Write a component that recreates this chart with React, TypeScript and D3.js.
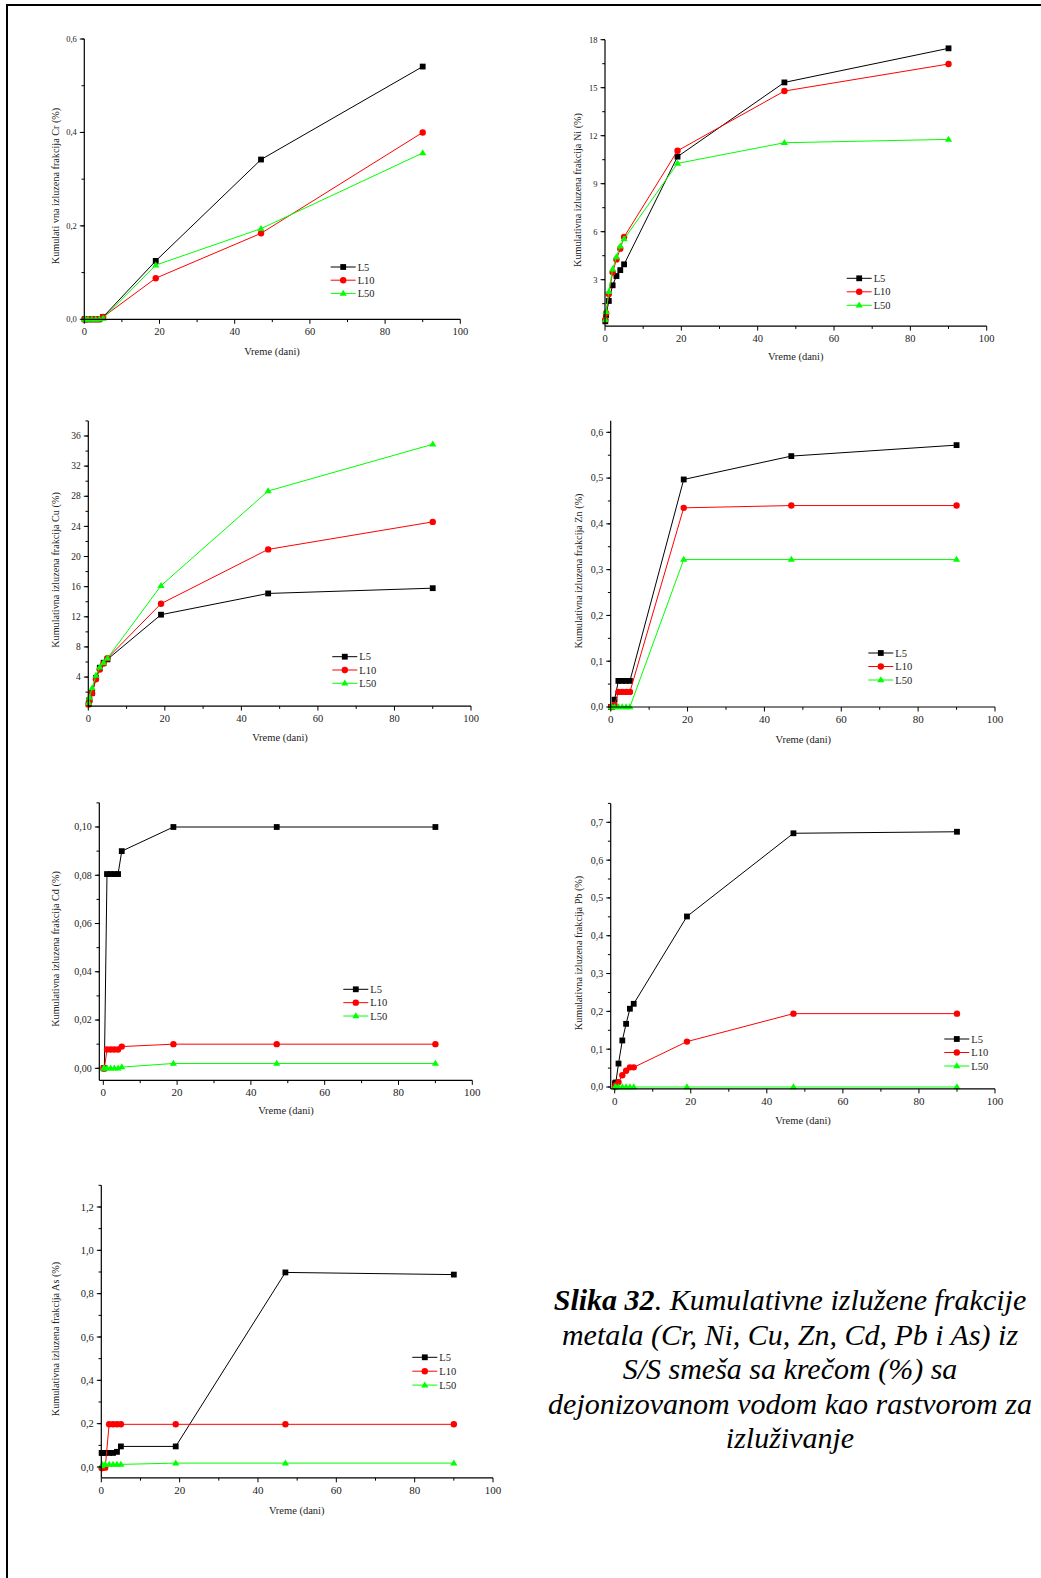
import React from "react";
import * as d3 from "d3";

// ---------- DATA ----------
const DAYS = [0.083, 0.29, 1, 2, 3, 4, 5, 19, 47, 90];
const SERIES_NAMES = ["L5", "L10", "L50"];
const X_TICKS = [0, 20, 40, 60, 80, 100];

const CR_L5 = [0, 0, 0, 0, 0, 0, 0.005, 0.125, 0.342, 0.541];
const CR_L10 = [0, 0, 0, 0, 0, 0, 0.005, 0.088, 0.184, 0.4];
const CR_L50 = [0, 0, 0, 0, 0, 0, 0.002, 0.116, 0.194, 0.356];
const CR_TICKS = [0, 0.2, 0.4, 0.6];

const NI_L5 = [0.4, 0.8, 1.67, 2.65, 3.23, 3.6, 3.96, 10.69, 15.33, 17.46];
const NI_L10 = [0.5, 0.9, 2.1, 3.46, 4.27, 4.94, 5.67, 11.06, 14.79, 16.48];
const NI_L50 = [0.5, 1.0, 2.25, 3.65, 4.42, 5.1, 5.54, 10.27, 11.56, 11.77];
const NI_TICKS = [3, 6, 9, 12, 15, 18];

const CU_L5 = [0.4, 0.95, 1.9, 3.9, 5.24, 5.9, 6.35, 12.28, 15.1, 15.8];
const CU_L10 = [0.35, 0.85, 1.85, 3.7, 5.0, 5.8, 6.5, 13.74, 20.95, 24.6];
const CU_L50 = [0.6, 1.3, 2.55, 4.2, 5.3, 5.9, 6.5, 16.13, 28.7, 34.9];
const CU_TICKS = [4, 8, 12, 16, 20, 24, 28, 32, 36];

const ZN_L5 = [0, 0, 0.016, 0.057, 0.057, 0.057, 0.057, 0.497, 0.548, 0.572];
const ZN_L10 = [0, 0, 0.004, 0.033, 0.033, 0.033, 0.033, 0.435, 0.44, 0.44];
const ZN_L50 = [0, 0, 0, 0, 0, 0, 0, 0.322, 0.322, 0.322];
const ZN_TICKS = [0, 0.1, 0.2, 0.3, 0.4, 0.5, 0.6];

const CD_L5 = [0, 0, 0.0805, 0.0805, 0.0805, 0.0805, 0.09, 0.1, 0.1, 0.1];
const CD_L10 = [0, 0, 0.0078, 0.0078, 0.0078, 0.0078, 0.009, 0.01, 0.01, 0.01];
const CD_L50 = [0, 0, 0, 0, 0, 0, 0.0005, 0.002, 0.002, 0.002];
const CD_TICKS = [0, 0.02, 0.04, 0.06, 0.08, 0.1];

const PB_L5 = [0.01, 0.012, 0.062, 0.123, 0.167, 0.207, 0.22, 0.451, 0.671, 0.675];
const PB_L10 = [0, 0.005, 0.013, 0.031, 0.043, 0.052, 0.052, 0.12, 0.194, 0.194];
const PB_L50 = [0, 0, 0, 0, 0, 0, 0, 0, 0, 0];
const PB_TICKS = [0, 0.1, 0.2, 0.3, 0.4, 0.5, 0.6, 0.7];

const AS_L5 = [0.065, 0.065, 0.065, 0.065, 0.065, 0.07, 0.095, 0.095, 0.898, 0.888];
const AS_L10 = [-0.005, -0.005, -0.003, 0.197, 0.197, 0.197, 0.197, 0.197, 0.197, 0.197];
const AS_L50 = [0.005, 0.01, 0.012, 0.012, 0.012, 0.012, 0.012, 0.018, 0.018, 0.018];
const AS_TICKS = [0, 0.2, 0.4, 0.6, 0.8, 1.0, 1.2];

const CAPTION_LINES = [
  "Kumulativne izlužene frakcije",
  "metala (Cr, Ni, Cu, Zn, Cd, Pb i As) iz",
  "S/S smeša sa krečom (%) sa",
  "dejonizovanom vodom kao rastvorom za",
  "izluživanje",
];

// ---------- LAYOUT / STYLE ----------
const COLORS = ["#000000", "#ff0000", "#00ff00"];
const FONT = "'Liberation Serif', 'Times New Roman', serif";

type Cfg = {
  series: number[][];
  ticks: number[];
  dec: number;
  ylabel: string;
  xr: [number, number];
  yd: [number, number];
  yr: [number, number];
  yExt: [number, number];
  xMin: number;
  legend: [number, number, number];
  ylab: [number, number];
  xlab: [number, number];
  yFs: number;
  xFs: number;
};

const PANELS: Cfg[] = [
  {
    series: [CR_L5, CR_L10, CR_L50], ticks: CR_TICKS, dec: 1,
    ylabel: "Kumulati vna izluzena frakcija Cr (%)",
    xr: [84.3, 460.3], yd: [0, 0.6], yr: [319.3, 39], yExt: [0, 0.6], xMin: 0,
    legend: [330.7, 267, 13.2], ylab: [55, 186], xlab: [272, 351], yFs: 8.5, xFs: 10.5,
  },
  {
    series: [NI_L5, NI_L10, NI_L50], ticks: NI_TICKS, dec: 0,
    ylabel: "Kumulativna izluzena frakcija Ni (%)",
    xr: [605, 986.7], yd: [0, 18], yr: [327.7, 39.7], yExt: [0.1, 18], xMin: 0,
    legend: [846.7, 278.3, 13.5], ylab: [577.7, 190], xlab: [795.7, 356], yFs: 8.5, xFs: 10.5,
  },
  {
    series: [CU_L5, CU_L10, CU_L50], ticks: CU_TICKS, dec: 0,
    ylabel: "Kumulativna izluzena frakcija Cu (%)",
    xr: [88.3, 471], yd: [0, 36], yr: [707.2, 436], yExt: [0.15, 38], xMin: 0,
    legend: [332.3, 656.7, 13.3], ylab: [55.7, 570], xlab: [280, 737.7], yFs: 9.5, xFs: 10.5,
  },
  {
    series: [ZN_L5, ZN_L10, ZN_L50], ticks: ZN_TICKS, dec: 1,
    ylabel: "Kumulativna izluzena frakcija Zn (%)",
    xr: [610.7, 995], yd: [0, 0.6], yr: [707, 432.3], yExt: [0, 0.625], xMin: 0,
    legend: [868.3, 653, 13.5], ylab: [578.3, 571], xlab: [803.3, 739.3], yFs: 10, xFs: 11,
  },
  {
    series: [CD_L5, CD_L10, CD_L50], ticks: CD_TICKS, dec: 2,
    ylabel: "Kumulativna izluzena frakcija Cd (%)",
    xr: [103.3, 472.3], yd: [0, 0.1], yr: [1068.3, 827], yExt: [-0.005, 0.11], xMin: -1.08,
    legend: [343.3, 989.3, 13.35], ylab: [55, 949], xlab: [286, 1110.7], yFs: 10, xFs: 11,
  },
  {
    series: [PB_L5, PB_L10, PB_L50], ticks: PB_TICKS, dec: 1,
    ylabel: "Kumulativna izluzena frakcija Pb (%)",
    xr: [614.7, 995], yd: [0, 0.7], yr: [1087, 822.3], yExt: [-0.005, 0.75], xMin: -1.05,
    legend: [944.3, 1039, 13.5], ylab: [578, 953], xlab: [803, 1120], yFs: 10, xFs: 11,
  },
  {
    series: [AS_L5, AS_L10, AS_L50], ticks: AS_TICKS, dec: 1,
    ylabel: "Kumulativna izluzena frakcija As (%)",
    xr: [101.3, 493], yd: [0, 1.2], yr: [1467, 1207], yExt: [-0.05, 1.3], xMin: 0,
    legend: [412.3, 1357.3, 13.9], ylab: [55.7, 1339], xlab: [296.7, 1510], yFs: 10.5, xFs: 11,
  },
];

function Marker({ kind, cx, cy, color }: { kind: number; cx: number; cy: number; color: string }) {
  if (kind === 0) {
    const s = 5.8;
    return <rect x={cx - s / 2} y={cy - s / 2} width={s} height={s} fill={color} />;
  }
  if (kind === 1) return <circle cx={cx} cy={cy} r={3.2} fill={color} />;
  const h = 6;
  const w = 7.2;
  return (
    <path
      d={`M${cx},${cy - h * 0.62}L${cx + w / 2},${cy + h * 0.38}L${cx - w / 2},${cy + h * 0.38}Z`}
      fill={color}
    />
  );
}

function fmt(v: number, dec: number) {
  return d3.format(`.${dec}f`)(v).replace(".", ",");
}

function Panel({ cfg }: { cfg: Cfg }) {
  const x = d3.scaleLinear().domain([0, 100]).range(cfg.xr);
  const y = d3.scaleLinear().domain(cfg.yd).range(cfg.yr);
  const x0 = x(cfg.xMin);
  const yBase = y(cfg.yExt[0]);
  const yTop = y(cfg.yExt[1]);
  const step = cfg.ticks[1] - cfg.ticks[0];
  const minors: number[] = [];
  for (let v = cfg.ticks[0] - step / 2; v <= cfg.yExt[1] + 1e-9; v += step / 2) {
    if (v >= cfg.yExt[0] - 1e-9) minors.push(v);
  }
  const line = d3
    .line<number>()
    .x((_, i) => x(DAYS[i]))
    .y((d) => y(d));
  const xMinors = d3.range(10, 100, 20);
  const [lx, ly, lg] = cfg.legend;
  return (
    <g>
      {cfg.series.map((s, si) => (
        <g key={si}>
          <path d={line(s) || ""} fill="none" stroke={COLORS[si]} strokeWidth={1} />
          {s.map((v, i) => (
            <Marker key={i} kind={si} cx={x(DAYS[i])} cy={y(v)} color={COLORS[si]} />
          ))}
        </g>
      ))}
      <line x1={x0} x2={x(100)} y1={yBase} y2={yBase} stroke="#000" strokeWidth={1.2} />
      <line x1={x0} x2={x0} y1={yBase} y2={yTop} stroke="#000" strokeWidth={1.2} />
      {X_TICKS.map((t) => (
        <g key={"xt" + t}>
          <line x1={x(t)} x2={x(t)} y1={yBase} y2={yBase + 4.5} stroke="#000" strokeWidth={1} />
          <text x={x(t)} y={yBase + 16} fontSize={cfg.xFs} textAnchor="middle" fill="#222" fontFamily={FONT}>
            {t}
          </text>
        </g>
      ))}
      {xMinors.map((t) => (
        <line key={"xm" + t} x1={x(t)} x2={x(t)} y1={yBase} y2={yBase + 2.8} stroke="#000" strokeWidth={1} />
      ))}
      {minors.map((t, i) => (
        <line key={"ym" + i} x1={x0 - 2.8} x2={x0} y1={y(t)} y2={y(t)} stroke="#000" strokeWidth={1} />
      ))}
      {cfg.ticks.map((t) => (
        <g key={"yt" + t}>
          <line x1={x0 - 4.5} x2={x0} y1={y(t)} y2={y(t)} stroke="#000" strokeWidth={1} />
          <text
            x={x0 - 7.5}
            y={y(t) + cfg.yFs * 0.34}
            fontSize={cfg.yFs}
            textAnchor="end"
            fill="#222"
            fontFamily={FONT}
          >
            {fmt(t, cfg.dec)}
          </text>
        </g>
      ))}
      <text x={cfg.xlab[0]} y={cfg.xlab[1] + 3.5} fontSize={10.5} textAnchor="middle" fill="#222" fontFamily={FONT}>
        Vreme (dani)
      </text>
      <text
        transform={`translate(${cfg.ylab[0] + 3.5},${cfg.ylab[1]}) rotate(-90)`}
        fontSize={10.2}
        textAnchor="middle"
        fill="#222"
        fontFamily={FONT}
      >
        {cfg.ylabel}
      </text>
      {SERIES_NAMES.map((n, i) => (
        <g key={n}>
          <line x1={lx} x2={lx + 25} y1={ly + i * lg} y2={ly + i * lg} stroke={COLORS[i]} strokeWidth={1} />
          <Marker kind={i} cx={lx + 12.5} cy={ly + i * lg} color={COLORS[i]} />
          <text x={lx + 27} y={ly + i * lg + 3.6} fontSize={10.5} fill="#222" fontFamily={FONT}>
            {n}
          </text>
        </g>
      ))}
    </g>
  );
}

export default function App() {
  const baselines = [1310, 1344.5, 1379, 1413.5, 1448];
  return (
    <svg width={1041} height={1578} style={{ position: "absolute", left: 0, top: 0, background: "#fff" }}>
      <rect x={0} y={0} width={1041} height={1578} fill="#fff" />
      <line x1={6} x2={1041} y1={5} y2={5} stroke="#000" strokeWidth={2} />
      <line x1={7} x2={7} y1={4} y2={1578} stroke="#000" strokeWidth={2} />
      {PANELS.map((p, i) => (
        <Panel key={i} cfg={p} />
      ))}
      <g fontFamily={FONT} fontSize={30} fontStyle="italic" fill="#000" textAnchor="middle">
        {CAPTION_LINES.map((l, i) => (
          <text key={i} x={790} y={baselines[i]}>
            {i === 0 ? (
              <>
                <tspan fontWeight="bold">Slika 32</tspan>
                {". " + l}
              </>
            ) : (
              l
            )}
          </text>
        ))}
      </g>
    </svg>
  );
}
